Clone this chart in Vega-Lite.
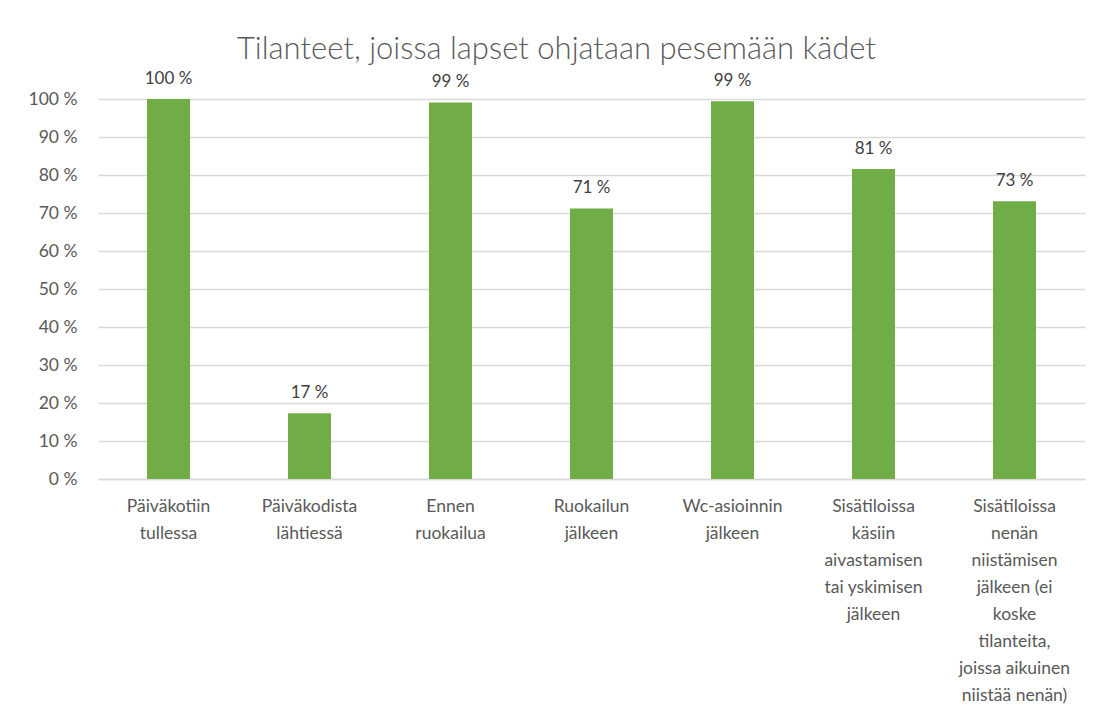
{
  "$schema": "https://vega.github.io/schema/vega-lite/v6.json",
  "width": 987,
  "height": 380,
  "autosize": {"type": "none"},
  "padding": {"left": 98, "top": 99, "right": 27, "bottom": 241},
  "background": "white",
  "title": {
    "text": "Tilanteet, joissa lapset ohjataan pesemään kädet",
    "anchor": "middle",
    "frame": "bounds",
    "fontSize": 31,
    "font": "Lato, sans-serif",
    "fontWeight": 300,
    "color": "#595959",
    "offset": 4
  },
  "data": {
    "values": [
      {"tilanne": "Päiväkotiin\ntullessa", "osuus": 100, "teksti": "100 %"},
      {"tilanne": "Päiväkodista\nlähtiessä", "osuus": 17.3, "teksti": "17 %"},
      {"tilanne": "Ennen\nruokailua", "osuus": 99.1, "teksti": "99 %"},
      {"tilanne": "Ruokailun\njälkeen", "osuus": 71.2, "teksti": "71 %"},
      {"tilanne": "Wc-asioinnin\njälkeen", "osuus": 99.4, "teksti": "99 %"},
      {"tilanne": "Sisätiloissa\nkäsiin\naivastamisen\ntai yskimisen\njälkeen", "osuus": 81.6, "teksti": "81 %"},
      {"tilanne": "Sisätiloissa\nnenän\nniistämisen\njälkeen (ei\nkoske\ntilanteita,\njoissa aikuinen\nniistää nenän)", "osuus": 73.1, "teksti": "73 %"}
    ]
  },
  "config": {
    "view": {"stroke": null},
    "font": "Lato, sans-serif"
  },
  "encoding": {
    "x": {
      "field": "tilanne",
      "type": "nominal",
      "sort": null,
      "title": null,
      "scale": {"paddingInner": 0.695, "paddingOuter": 0.3475},
      "axis": {
        "labelAngle": 0,
        "labelExpr": "split(datum.label, '\\n')",
        "labelFontSize": 17.5,
        "labelLineHeight": 27,
        "labelColor": "#595959",
        "labelFont": "Lato, sans-serif",
        "labelPadding": 18,
        "labelBaseline": "top",
        "labelLimit": 200,
        "ticks": false,
        "domainColor": "#D9D9D9",
        "domainWidth": 1.5
      }
    },
    "y": {
      "field": "osuus",
      "type": "quantitative",
      "title": null,
      "scale": {"domain": [0, 100], "nice": false},
      "axis": {
        "values": [0, 10, 20, 30, 40, 50, 60, 70, 80, 90, 100],
        "labelExpr": "datum.value + ' %'",
        "labelFontSize": 17.5,
        "labelColor": "#595959",
        "labelFont": "Lato, sans-serif",
        "labelPadding": 21,
        "ticks": false,
        "domain": false,
        "gridColor": "#D9D9D9",
        "gridWidth": 1.5
      }
    }
  },
  "layer": [
    {"mark": {"type": "bar", "color": "#70AD47"}},
    {
      "mark": {
        "type": "text",
        "baseline": "alphabetic",
        "dy": -15,
        "fontSize": 17,
        "color": "#404040"
      },
      "encoding": {"text": {"field": "teksti"}}
    }
  ]
}
